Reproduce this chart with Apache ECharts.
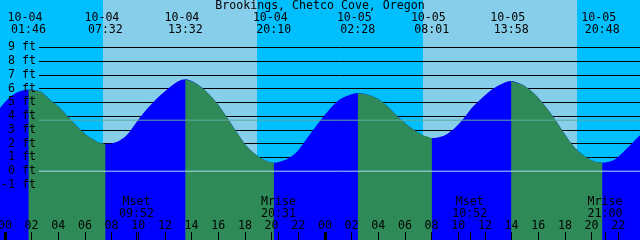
<!DOCTYPE html>
<html><head><meta charset="utf-8">
<script src="https://cdn.jsdelivr.net/npm/echarts@6/dist/echarts.min.js"></script>
<style>html,body{margin:0;padding:0;background:#00BFFF}#c{width:640px;height:240px}</style>
</head><body><div id="c"></div>
<script>
// ---------- data ----------
const chartTitle = 'Brookings, Chetco Cove, Oregon';
// tide curve (hours from 10-04 00:00, feet)
const tideHours = [-0.37,0.38,1.13,1.77,2.63,3.51,4.13,4.63,5.38,6.13,6.88,7.53,8.38,9.13,9.88,10.63,11.38,12.38,13.0,13.53,14.38,15.13,15.88,16.63,17.38,18.13,18.88,19.63,20.17,21.13,21.88,22.63,23.38,24.38,25.13,25.88,26.47,27.38,28.13,28.88,29.63,30.38,31.13,32.02,32.88,33.63,34.38,35.13,36.38,37.13,37.97,38.88,39.63,40.38,41.13,41.88,42.63,43.38,44.13,44.8,45.63,46.38,47.13,47.63];
const tideFeet  = [4.60,5.40,5.81,5.95,5.81,5.08,4.60,4.07,3.29,2.61,2.17,1.98,2.12,2.61,3.58,4.50,5.27,6.12,6.54,6.68,6.36,5.76,4.98,3.94,2.85,1.82,1.16,0.74,0.62,0.87,1.40,2.36,3.34,4.55,5.23,5.56,5.69,5.52,5.16,4.55,3.82,3.21,2.73,2.41,2.56,3.05,3.82,4.72,5.83,6.29,6.56,6.25,5.71,4.91,3.94,2.85,1.83,1.16,0.74,0.62,0.79,1.40,2.12,2.61];
// tide events
const eventDates = ['10-04','10-04','10-04','10-04','10-05','10-05','10-05','10-05'];
const eventTimes = ['01:46','07:32','13:32','20:10','02:28','08:01','13:58','20:48'];
const eventKinds = ['high','low','high','low','high','low','high','low'];
// moon events
const moonNames = ['Mset','Mrise','Mset','Mrise'];
const moonDates = ['10-04','10-04','10-05','10-05'];
const moonTimes = ['09:52','20:31','10:52','21:00'];
// sun
const sunriseDates = ['10-04','10-05'];
const sunriseTimes = ['07:21','07:21'];
const sunsetDates  = ['10-04','10-05'];
const sunsetTimes  = ['18:54','18:54'];
// axes
const ftTicks = [-1,0,1,2,3,4,5,6,7,8,9];
const hourTicks = [0,2,4,6,8,10,12,14,16,18,20,22,24,26,28,30,32,34,36,38,40,42,44,46];
const hourTickLabels = ['00','02','04','06','08','10','12','14','16','18','20','22','00','02','04','06','08','10','12','14','16','18','20','22'];
const midnightTicks = [0,24];
const mslFeet = 3.71;
const datumFeet = 0;

// ---------- style ----------
const X_MIN = -0.37, X_MAX = 47.63, Y_MIN = -5, Y_MAX = 12.45;
const NIGHT = '#00BFFF', DAY = '#87CEEB', FLOOD = '#0000FF', EBB = '#2E8B57';
const MSL_COLOR = '#5FAA9B', DATUM_COLOR = '#A8DCEB';
const FONT = '"DejaVu Sans Mono", monospace';
const FS = 11.6;

function toHours(d, t) {
  const day = parseInt(d.slice(3), 10) - 4;
  const [hh, mm] = t.split(':').map(Number);
  return day * 24 + hh + mm / 60;
}
const eventHours = eventDates.map((d, i) => toHours(d, eventTimes[i]));
const moonHours = moonDates.map((d, i) => toHours(d, moonTimes[i]));
const dayRanges = sunriseDates.map((d, i) => [toHours(d, sunriseTimes[i]), toHours(sunsetDates[i], sunsetTimes[i])]);

function isEbb(h) {
  for (let i = 0; i < eventHours.length - 1; i++) {
    if (eventKinds[i] === 'high' && h >= eventHours[i] - 0.01 && h <= eventHours[i + 1] + 0.01) return true;
  }
  return false;
}
const floodData = tideHours.map((h, i) => [h, tideFeet[i]]);
const ebbData = tideHours.map((h, i) => isEbb(h) ? [h, tideFeet[i]] : [h, null]);

function findIdx(arr, v) { let b = 0; arr.forEach((a, i) => { if (Math.abs(a - v) < Math.abs(arr[b] - v)) b = i; }); return b; }

const txt = { fontFamily: FONT, fontSize: FS, color: '#000' };
const hiddenAxisParts = { axisLine: { show: false, onZero: false }, splitLine: { show: false } };

const option = {
  backgroundColor: NIGHT,
  animation: false,
  textStyle: { fontFamily: FONT },
  title: { text: chartTitle, left: 'center', top: 0, padding: 0,
    textStyle: Object.assign({ fontWeight: 'normal', lineHeight: 12 }, txt) },
  grid: [
    { left: 0, right: 0, top: 0, bottom: 0, containLabel: false, outerBoundsMode: 'none' },
    { left: 39, right: 0, top: 47.45, bottom: 55.05, containLabel: false, outerBoundsMode: 'none' }
  ],
  xAxis: [
    Object.assign({ gridIndex: 0, type: 'value', min: X_MIN, max: X_MAX, position: 'bottom', z: 6,
      axisTick: { show: true, inside: true, length: 8, customValues: hourTicks, lineStyle: { color: '#000', width: 1 } },
      axisLabel: Object.assign({ show: true, inside: true, customValues: hourTicks, margin: 14, verticalAlign: 'middle',
        formatter: v => hourTickLabels[findIdx(hourTicks, v)] }, txt) }, hiddenAxisParts),
    Object.assign({ gridIndex: 0, type: 'value', min: X_MIN, max: X_MAX, position: 'bottom', z: 6,
      axisTick: { show: true, inside: true, length: 8, customValues: midnightTicks, lineStyle: { color: '#000', width: 3 } },
      axisLabel: { show: false } }, hiddenAxisParts),
    Object.assign({ gridIndex: 0, type: 'value', min: X_MIN, max: X_MAX, position: 'bottom', z: 6,
      axisTick: { show: true, inside: true, length: 8, customValues: moonHours, lineStyle: { color: '#000', width: 1 } },
      axisLabel: Object.assign({ show: true, inside: true, customValues: moonHours, margin: 32.2, verticalAlign: 'middle', lineHeight: 11.5,
        formatter: v => { const i = findIdx(moonHours, v); return moonNames[i] + '\n' + moonTimes[i]; } }, txt) }, hiddenAxisParts),
    Object.assign({ gridIndex: 0, type: 'value', min: X_MIN, max: X_MAX, position: 'top', z: 6,
      axisTick: { show: false },
      axisLabel: Object.assign({ show: true, inside: true, customValues: eventHours, margin: 23.5, verticalAlign: 'middle', lineHeight: 12,
        formatter: v => { const i = findIdx(eventHours, v); return eventDates[i] + ' \n' + eventTimes[i]; } }, txt) }, hiddenAxisParts),
    { gridIndex: 1, type: 'value', min: X_MIN, max: X_MAX, show: false, axisLine: { onZero: false } }
  ],
  yAxis: [
    { gridIndex: 0, type: 'value', min: Y_MIN, max: Y_MAX, z: 6,
      axisLine: { show: false, onZero: false }, axisTick: { show: false }, splitLine: { show: false },
      axisLabel: Object.assign({ show: true, inside: true, customValues: ftTicks, margin: 36, align: 'right', verticalAlign: 'middle',
        formatter: v => v + ' ft' }, txt) },
    { gridIndex: 1, type: 'value', min: -1, max: 9, interval: 1, z: 1,
      axisLine: { show: false, onZero: false }, axisTick: { show: false }, axisLabel: { show: false },
      splitLine: { show: true, lineStyle: { color: '#000', width: 1 } } }
  ],
  series: [
    { type: 'custom', name: 'day', xAxisIndex: 0, yAxisIndex: 0, z: 0, silent: true,
      data: dayRanges, encode: { x: [0, 1] },
      renderItem: (params, api) => {
        const a = api.coord([api.value(0), Y_MAX]);
        const b = api.coord([api.value(1), Y_MIN]);
        const x0 = Math.round(a[0]), x1 = Math.round(b[0]);
        return { type: 'rect', shape: { x: x0, y: a[1], width: x1 - x0, height: b[1] - a[1] }, style: { fill: DAY } };
      } },
    { type: 'line', name: 'flood', xAxisIndex: 0, yAxisIndex: 0, z: 2, silent: true,
      data: floodData, smooth: 0.3, symbol: 'none',
      lineStyle: { width: 0, color: FLOOD }, areaStyle: { color: FLOOD, opacity: 1, origin: 'start' } },
    { type: 'line', name: 'ebb', xAxisIndex: 0, yAxisIndex: 0, z: 3, silent: true,
      data: ebbData, smooth: 0.3, symbol: 'none', connectNulls: false,
      lineStyle: { width: 0, color: EBB }, areaStyle: { color: EBB, opacity: 1, origin: 'start' } },
    { type: 'line', name: 'msl', xAxisIndex: 4, yAxisIndex: 1, z: 5, silent: true, symbol: 'none',
      data: [[X_MIN, mslFeet], [X_MAX, mslFeet]], lineStyle: { width: 1, color: MSL_COLOR } },
    { type: 'line', name: 'datum', xAxisIndex: 4, yAxisIndex: 1, z: 5, silent: true, symbol: 'none',
      data: [[X_MIN, datumFeet], [X_MAX, datumFeet]], lineStyle: { width: 1, color: DATUM_COLOR } }
  ]
};
const chart = echarts.init(document.getElementById('c'), null, { renderer: 'canvas' });
chart.setOption(option);
</script>
</body></html>
